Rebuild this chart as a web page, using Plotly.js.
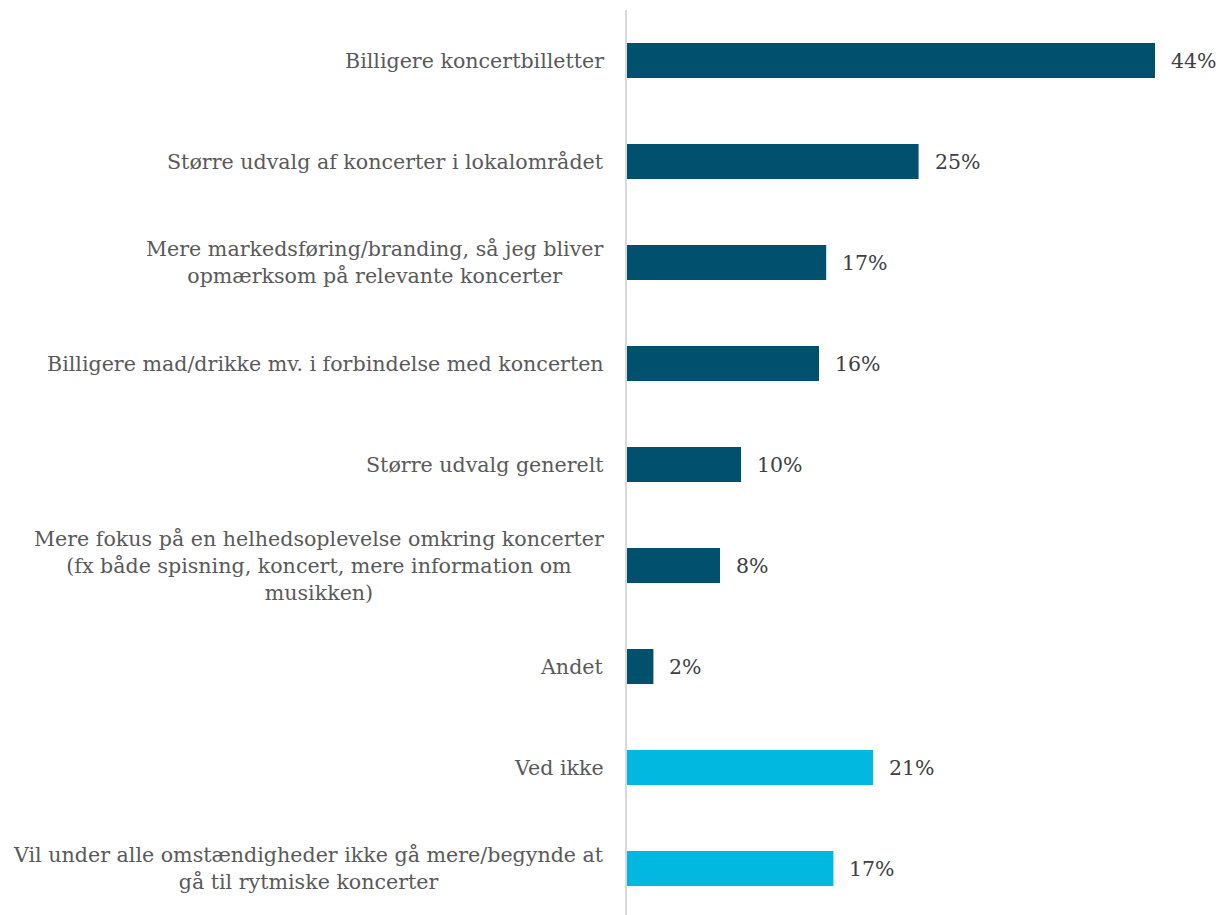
<!DOCTYPE html>
<html>
<head>
<meta charset="utf-8">
<script src="https://cdn.plot.ly/plotly-3.0.1.min.js"></script>
<style>
  html, body { margin: 0; padding: 0; background: #ffffff; }
  #chart { width: 1220px; height: 915px; }
</style>
</head>
<body>
<div id="chart"></div>
<script>
// Categories (top to bottom)
const categories = [
  "Billigere koncertbilletter",
  "Større udvalg af koncerter i lokalområdet",
  "Mere markedsføring/branding, så jeg bliver<br>opmærksom på relevante koncerter",
  "Billigere mad/drikke mv. i forbindelse med koncerten",
  "Større udvalg generelt",
  "Mere fokus på en helhedsoplevelse omkring koncerter<br>(fx både spisning, koncert, mere information om<br>musikken)",
  "Andet",
  "Ved ikke",
  "Vil under alle omstændigheder ikke gå mere/begynde at<br>gå til rytmiske koncerter"
];
// Values in percent
const values = [44.0, 24.3, 16.6, 16.0, 9.5, 7.75, 2.2, 20.5, 17.2];
// Printed value labels
const valueLabels = ["44%", "25%", "17%", "16%", "10%", "8%", "2%", "21%", "17%"];
// Group: "main" answers vs. "other" answers (Ved ikke / Vil ikke)
const groups = ["main", "main", "main", "main", "main", "main", "main", "other", "other"];

const groupColors = { main: "#00506E", other: "#00B8E0" };
const FONT = "Georgia, 'DejaVu Serif', serif";

const yIdx = categories.map((_, i) => i);

const trace = {
  type: "bar",
  orientation: "h",
  x: values,
  y: yIdx,
  marker: { color: groups.map(g => groupColors[g]), line: { width: 0 } },
  hoverinfo: "none",
  showlegend: false
};

const annotations = [];
// category labels
categories.forEach((c, i) => {
  annotations.push({
    xref: "paper", yref: "y",
    x: 0, y: i,
    xanchor: "right", yanchor: "middle",
    xshift: -21,
    align: "center",
    showarrow: false,
    text: c,
    font: { family: FONT, size: 20.6, color: "#595959" }
  });
});
// value labels
values.forEach((v, i) => {
  annotations.push({
    xref: "x", yref: "y",
    x: v, y: i,
    xanchor: "left", yanchor: "middle",
    xshift: 14,
    showarrow: false,
    text: valueLabels[i],
    font: { family: FONT, size: 20.5, color: "#404040" }
  });
});

const layout = {
  width: 1220, height: 915,
  margin: { l: 627, r: 20, t: 10, b: 0, pad: 0 },
  paper_bgcolor: "#ffffff",
  plot_bgcolor: "#ffffff",
  bargap: 0.653,
  xaxis: {
    range: [0, 573 / 12],
    showgrid: false, zeroline: false, showline: false,
    showticklabels: false, ticks: "", fixedrange: true
  },
  yaxis: {
    range: [8.46, -0.5],
    showgrid: false, zeroline: false,
    showline: true, linecolor: "#d9d9d9", linewidth: 2,
    showticklabels: false, ticks: "", fixedrange: true
  },
  annotations: annotations,
  font: { family: FONT }
};

Plotly.newPlot("chart", [trace], layout, { displayModeBar: false, staticPlot: true });
</script>
</body>
</html>
